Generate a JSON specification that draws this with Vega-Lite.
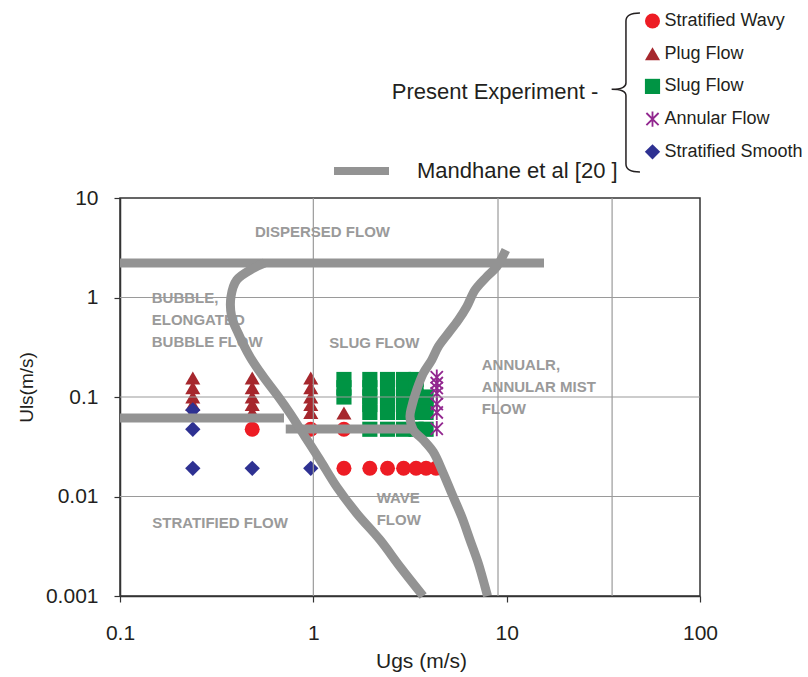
{
  "$schema": "https://vega.github.io/schema/vega-lite/v6.json",
  "width": 580,
  "height": 398,
  "autosize": {"type": "none"},
  "padding": {"left": 120, "top": 198, "right": 108, "bottom": 81},
  "background": "white",
  "config": {
    "font": "Liberation Sans",
    "view": {"stroke": "#333333", "strokeWidth": 1.5},
    "axis": {
      "labelFont": "Liberation Sans",
      "titleFont": "Liberation Sans",
      "labelColor": "#231f20",
      "titleColor": "#231f20",
      "titleFontWeight": "normal",
      "domainColor": "#333333",
      "tickColor": "#333333",
      "domainWidth": 1.5,
      "tickWidth": 1.2,
      "grid": false,
      "labelFlush": false,
      "labelOverlap": false,
      "labelBound": false
    }
  },
  "layer": [
    {
      "data": {
        "values": [
          {"x": 0.483, "y": 0.0474, "type": "Stratified Wavy"},
          {"x": 0.97, "y": 0.0474, "type": "Stratified Wavy"},
          {"x": 1.44, "y": 0.0474, "type": "Stratified Wavy"},
          {"x": 1.44, "y": 0.0192, "type": "Stratified Wavy"},
          {"x": 1.96, "y": 0.0192, "type": "Stratified Wavy"},
          {"x": 2.42, "y": 0.0192, "type": "Stratified Wavy"},
          {"x": 2.93, "y": 0.0192, "type": "Stratified Wavy"},
          {"x": 3.4, "y": 0.0192, "type": "Stratified Wavy"},
          {"x": 3.83, "y": 0.0192, "type": "Stratified Wavy"},
          {"x": 4.31, "y": 0.0192, "type": "Stratified Wavy"},
          {"x": 0.238, "y": 0.155, "type": "Plug Flow"},
          {"x": 0.238, "y": 0.124, "type": "Plug Flow"},
          {"x": 0.238, "y": 0.1, "type": "Plug Flow"},
          {"x": 0.238, "y": 0.084, "type": "Plug Flow"},
          {"x": 0.238, "y": 0.07, "type": "Plug Flow"},
          {"x": 0.483, "y": 0.155, "type": "Plug Flow"},
          {"x": 0.483, "y": 0.124, "type": "Plug Flow"},
          {"x": 0.483, "y": 0.1, "type": "Plug Flow"},
          {"x": 0.483, "y": 0.084, "type": "Plug Flow"},
          {"x": 0.483, "y": 0.07, "type": "Plug Flow"},
          {"x": 0.97, "y": 0.155, "type": "Plug Flow"},
          {"x": 0.97, "y": 0.124, "type": "Plug Flow"},
          {"x": 0.97, "y": 0.1, "type": "Plug Flow"},
          {"x": 0.97, "y": 0.084, "type": "Plug Flow"},
          {"x": 0.97, "y": 0.07, "type": "Plug Flow"},
          {"x": 1.44, "y": 0.069, "type": "Plug Flow"},
          {"x": 1.44, "y": 0.15, "type": "Slug Flow"},
          {"x": 1.44, "y": 0.124, "type": "Slug Flow"},
          {"x": 1.44, "y": 0.1, "type": "Slug Flow"},
          {"x": 1.96, "y": 0.15, "type": "Slug Flow"},
          {"x": 1.96, "y": 0.124, "type": "Slug Flow"},
          {"x": 1.96, "y": 0.1, "type": "Slug Flow"},
          {"x": 1.96, "y": 0.084, "type": "Slug Flow"},
          {"x": 1.96, "y": 0.07, "type": "Slug Flow"},
          {"x": 1.96, "y": 0.0474, "type": "Slug Flow"},
          {"x": 2.42, "y": 0.15, "type": "Slug Flow"},
          {"x": 2.42, "y": 0.124, "type": "Slug Flow"},
          {"x": 2.42, "y": 0.1, "type": "Slug Flow"},
          {"x": 2.42, "y": 0.084, "type": "Slug Flow"},
          {"x": 2.42, "y": 0.07, "type": "Slug Flow"},
          {"x": 2.42, "y": 0.0474, "type": "Slug Flow"},
          {"x": 2.93, "y": 0.15, "type": "Slug Flow"},
          {"x": 2.93, "y": 0.124, "type": "Slug Flow"},
          {"x": 2.93, "y": 0.1, "type": "Slug Flow"},
          {"x": 2.93, "y": 0.084, "type": "Slug Flow"},
          {"x": 2.93, "y": 0.07, "type": "Slug Flow"},
          {"x": 2.93, "y": 0.0474, "type": "Slug Flow"},
          {"x": 3.4, "y": 0.15, "type": "Slug Flow"},
          {"x": 3.4, "y": 0.124, "type": "Slug Flow"},
          {"x": 3.4, "y": 0.1, "type": "Slug Flow"},
          {"x": 3.4, "y": 0.084, "type": "Slug Flow"},
          {"x": 3.4, "y": 0.07, "type": "Slug Flow"},
          {"x": 3.4, "y": 0.0474, "type": "Slug Flow"},
          {"x": 3.83, "y": 0.1, "type": "Slug Flow"},
          {"x": 3.83, "y": 0.084, "type": "Slug Flow"},
          {"x": 3.83, "y": 0.07, "type": "Slug Flow"},
          {"x": 3.83, "y": 0.0474, "type": "Slug Flow"},
          {"x": 4.35, "y": 0.158, "type": "Annular Flow"},
          {"x": 4.35, "y": 0.138, "type": "Annular Flow"},
          {"x": 4.35, "y": 0.123, "type": "Annular Flow"},
          {"x": 4.35, "y": 0.109, "type": "Annular Flow"},
          {"x": 4.35, "y": 0.085, "type": "Annular Flow"},
          {"x": 4.35, "y": 0.07, "type": "Annular Flow"},
          {"x": 4.35, "y": 0.048, "type": "Annular Flow"},
          {"x": 0.238, "y": 0.074, "type": "Stratified Smooth"},
          {"x": 0.238, "y": 0.0474, "type": "Stratified Smooth"},
          {"x": 0.238, "y": 0.0192, "type": "Stratified Smooth"},
          {"x": 0.483, "y": 0.0192, "type": "Stratified Smooth"},
          {"x": 0.97, "y": 0.0192, "type": "Stratified Smooth"}
        ]
      },
      "mark": {"type": "point", "filled": true, "opacity": 1, "strokeWidth": 0},
      "encoding": {
        "x": {
          "field": "x", "type": "quantitative",
          "scale": {"type": "log", "domain": [0.1, 100], "nice": false},
          "axis": {"values": [0.1, 1, 10, 100], "format": "~g", "title": "Ugs (m/s)", "labelFontSize": 21, "titleFontSize": 21, "tickSize": 6, "labelPadding": 20, "titleX": 301, "titleY": 71, "titleAlign": "center", "titleBaseline": "alphabetic"}
        },
        "y": {
          "field": "y", "type": "quantitative",
          "scale": {"type": "log", "domain": [0.001, 10], "nice": false},
          "axis": {"values": [0.001, 0.01, 0.1, 1, 10], "format": "~g", "title": "Uls(m/s)", "labelFontSize": 21, "titleFontSize": 19, "tickSize": 6, "labelPadding": 16, "titleX": -88, "titleY": 189, "titleAngle": -90, "titleAlign": "center", "titleBaseline": "alphabetic"}
        },
        "color": {
          "field": "type", "type": "nominal",
          "scale": {"domain": ["Stratified Wavy", "Plug Flow", "Slug Flow", "Annular Flow", "Stratified Smooth"], "range": ["#ed1c24", "#a6272d", "#009444", "#92278f", "#2e3192"]},
          "legend": {"orient": "none", "legendX": 523.5, "legendY": -186, "title": null, "padding": 0, "labelFontSize": 18, "labelColor": "#231f20", "labelFont": "Liberation Sans", "symbolSize": 220, "rowPadding": 14.7, "labelOffset": 3, "labelLimit": 400, "symbolStrokeWidth": 0}
        },
        "shape": {
          "field": "type", "type": "nominal",
          "scale": {"domain": ["Stratified Wavy", "Plug Flow", "Slug Flow", "Annular Flow", "Stratified Smooth"], "range": ["circle", "triangle-up", "square", "M-0.12,-1L0.12,-1L0.12,1L-0.12,1ZM-0.885,-0.715L-0.715,-0.885L0.885,0.715L0.715,0.885ZM-0.885,0.715L0.715,-0.885L0.885,-0.715L-0.715,0.885Z", "diamond"]},
          "legend": {"orient": "none", "legendX": 523.5, "legendY": -186, "title": null, "padding": 0, "labelFontSize": 18, "labelColor": "#231f20", "labelFont": "Liberation Sans", "symbolSize": 220, "rowPadding": 14.7, "labelOffset": 3, "labelLimit": 400, "symbolStrokeWidth": 0}
        },
        "size": {
          "field": "type", "type": "nominal",
          "scale": {"domain": ["Stratified Wavy", "Plug Flow", "Slug Flow", "Annular Flow", "Stratified Smooth"], "range": [225, 235, 256, 180, 260]},
          "legend": null
        }
      }
    },
    {
      "data": {
        "values": [
          {"x": 0.499, "y": 4.08, "t": "DISPERSED FLOW"},
          {"x": 0.146, "y": 0.88, "t": "BUBBLE,\nELONGATED\nBUBBLE FLOW"},
          {"x": 1.21, "y": 0.3086, "t": "SLUG FLOW"},
          {"x": 7.43, "y": 0.1868, "t": "ANNUALR,\nANNULAR MIST\nFLOW"},
          {"x": 2.127, "y": 0.00855, "t": "WAVE\nFLOW"},
          {"x": 0.147, "y": 0.00479, "t": "STRATIFIED FLOW"}
        ]
      },
      "mark": {"type": "text", "align": "left", "baseline": "alphabetic", "fontSize": 15, "fontWeight": "bold", "color": "#9a9a9a", "lineBreak": "\n", "lineHeight": 22},
      "encoding": {
        "x": {"field": "x", "type": "quantitative", "scale": {"type": "log", "domain": [0.1, 100], "nice": false}},
        "y": {"field": "y", "type": "quantitative", "scale": {"type": "log", "domain": [0.001, 10], "nice": false}},
        "text": {"field": "t", "type": "nominal"}
      }
    },
    {
      "data": {"values": [{"x": 1}, {"x": 9.02}, {"x": 35.1}]},
      "mark": {"type": "rule", "color": "#9a9a9a", "strokeWidth": 1.2},
      "encoding": {
        "x": {"field": "x", "type": "quantitative", "scale": {"type": "log", "domain": [0.1, 100], "nice": false}}
      }
    },
    {
      "data": {"values": [{"y": 0.01}, {"y": 0.1}, {"y": 1}]},
      "mark": {"type": "rule", "color": "#9a9a9a", "strokeWidth": 1.2},
      "encoding": {
        "y": {"field": "y", "type": "quantitative", "scale": {"type": "log", "domain": [0.001, 10], "nice": false}}
      }
    },
    {
      "data": {
        "values": [
          {"seg": "A", "ord": 1, "x": 0.1, "y": 2.22},
          {"seg": "A", "ord": 2, "x": 15.6, "y": 2.22},
          {"seg": "B", "ord": 1, "x": 0.1, "y": 0.0615},
          {"seg": "B", "ord": 2, "x": 0.705, "y": 0.0615},
          {"seg": "C", "ord": 1, "x": 0.72, "y": 0.0477},
          {"seg": "C", "ord": 2, "x": 3.3, "y": 0.0477},
          {"seg": "D", "ord": 1, "x": 0.56, "y": 2.22},
          {"seg": "D", "ord": 2, "x": 0.489, "y": 1.966},
          {"seg": "D", "ord": 3, "x": 0.4015, "y": 1.499},
          {"seg": "D", "ord": 4, "x": 0.375, "y": 1.019},
          {"seg": "D", "ord": 5, "x": 0.378, "y": 0.641},
          {"seg": "D", "ord": 6, "x": 0.409, "y": 0.4365},
          {"seg": "D", "ord": 7, "x": 0.47, "y": 0.254},
          {"seg": "D", "ord": 8, "x": 0.551, "y": 0.16},
          {"seg": "D", "ord": 9, "x": 0.659, "y": 0.1007},
          {"seg": "D", "ord": 10, "x": 0.757, "y": 0.0686},
          {"seg": "D", "ord": 11, "x": 0.906, "y": 0.0399},
          {"seg": "D", "ord": 12, "x": 1.083, "y": 0.0233},
          {"seg": "D", "ord": 13, "x": 1.321, "y": 0.01254},
          {"seg": "D", "ord": 14, "x": 1.676, "y": 0.00678},
          {"seg": "D", "ord": 15, "x": 2.213, "y": 0.00366},
          {"seg": "D", "ord": 16, "x": 2.808, "y": 0.00197},
          {"seg": "D", "ord": 17, "x": 3.7, "y": 0.001},
          {"seg": "E", "ord": 1, "x": 9.9, "y": 3.0},
          {"seg": "E", "ord": 2, "x": 8.88, "y": 2.04},
          {"seg": "E", "ord": 3, "x": 7.885, "y": 1.618},
          {"seg": "E", "ord": 4, "x": 6.859, "y": 1.19},
          {"seg": "E", "ord": 5, "x": 6.215, "y": 0.808},
          {"seg": "E", "ord": 6, "x": 5.622, "y": 0.594},
          {"seg": "E", "ord": 7, "x": 4.99, "y": 0.4368},
          {"seg": "E", "ord": 8, "x": 4.43, "y": 0.3202},
          {"seg": "E", "ord": 9, "x": 4.096, "y": 0.2354},
          {"seg": "E", "ord": 10, "x": 3.706, "y": 0.173},
          {"seg": "E", "ord": 11, "x": 3.425, "y": 0.1176},
          {"seg": "E", "ord": 12, "x": 3.227, "y": 0.0799},
          {"seg": "E", "ord": 13, "x": 3.162, "y": 0.0634},
          {"seg": "E", "ord": 14, "x": 3.289, "y": 0.0466},
          {"seg": "E", "ord": 15, "x": 3.706, "y": 0.037},
          {"seg": "E", "ord": 16, "x": 4.175, "y": 0.028},
          {"seg": "E", "ord": 17, "x": 4.702, "y": 0.0171},
          {"seg": "E", "ord": 18, "x": 5.196, "y": 0.01077},
          {"seg": "E", "ord": 19, "x": 5.853, "y": 0.00627},
          {"seg": "E", "ord": 20, "x": 6.462, "y": 0.00366},
          {"seg": "E", "ord": 21, "x": 7.134, "y": 0.00213},
          {"seg": "E", "ord": 22, "x": 7.727, "y": 0.00124},
          {"seg": "E", "ord": 23, "x": 7.96, "y": 0.001}
        ]
      },
      "mark": {"type": "line", "strokeWidth": 9, "interpolate": "catmull-rom", "strokeCap": "butt", "strokeJoin": "round"},
      "encoding": {
        "x": {"field": "x", "type": "quantitative", "scale": {"type": "log", "domain": [0.1, 100], "nice": false}},
        "y": {"field": "y", "type": "quantitative", "scale": {"type": "log", "domain": [0.001, 10], "nice": false}},
        "detail": {"field": "seg", "type": "nominal"},
        "order": {"field": "ord", "type": "quantitative"},
        "stroke": {
          "datum": "Mandhane et al [20 ]", "type": "nominal",
          "scale": {"range": ["#939393"]},
          "legend": {"orient": "none", "legendX": 210, "legendY": -58.5, "title": null, "padding": 0, "labelFontSize": 22, "labelColor": "#231f20", "labelFont": "Liberation Sans", "symbolType": "stroke", "symbolSize": 3025, "symbolStrokeWidth": 8, "labelOffset": 24, "labelLimit": 400}
        }
      }
    },
    {
      "data": {"values": [{"x": 29.8, "y": 98.2, "t": "Present Experiment -"}]},
      "mark": {"type": "text", "align": "right", "baseline": "alphabetic", "fontSize": 22, "color": "#231f20"},
      "encoding": {
        "x": {"field": "x", "type": "quantitative", "scale": {"type": "log", "domain": [0.1, 100], "nice": false}},
        "y": {"field": "y", "type": "quantitative", "scale": {"type": "log", "domain": [0.001, 10], "nice": false}},
        "text": {"field": "t", "type": "nominal"}
      }
    },
    {
      "data": {"values": [{"x": 41.4, "y": 114.9}]},
      "mark": {"type": "point", "filled": false, "opacity": 1, "stroke": "#231f20", "strokeWidth": 1.5, "size": 25281, "shape": "M0.176,-1C0.05,-1 0,-0.97 0,-0.9L0,-0.12C0,-0.07 -0.05,-0.04 -0.18,-0.04C-0.05,-0.04 0,-0.01 0,0.04L0,0.9C0,0.97 0.05,1 0.176,1"},
      "encoding": {
        "x": {"field": "x", "type": "quantitative", "scale": {"type": "log", "domain": [0.1, 100], "nice": false}},
        "y": {"field": "y", "type": "quantitative", "scale": {"type": "log", "domain": [0.001, 10], "nice": false}}
      }
    }
  ]
}
